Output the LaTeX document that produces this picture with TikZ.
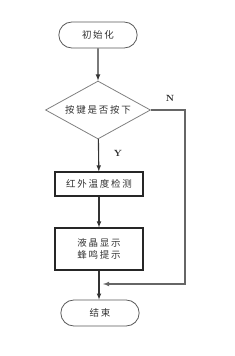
\documentclass[tikz,border=0pt]{standalone}
\usepackage{fontspec}
\newfontfamily\cjk[LetterSpace=18]{Noto Sans CJK SC}
\usetikzlibrary{shapes.geometric,shapes.misc}
\tikzset{
  line/.style={draw=black!80,line width=1.1pt,-latex},
  term/.style={rounded rectangle,draw=black!65,line width=0.8pt,minimum width=85pt,minimum height=26pt,font=\cjk\fontsize{9.5}{11}\selectfont,text=black!80},
  proc/.style={rectangle,draw=black!85,line width=1.1pt,minimum width=88pt,font=\cjk\fontsize{9.5}{12}\selectfont,text=black!80,align=center},
  dec/.style={diamond,aspect=2,inner sep=0pt,draw=black!50,line width=0.8pt,minimum width=105pt,minimum height=58pt,font=\cjk\fontsize{9.5}{11}\selectfont,text=black!80},
  lab/.style={font=\bfseries\fontsize{9}{11}\selectfont,text=black!85}
}
\begin{document}
\begin{tikzpicture}[x=1pt,y=-1pt]
\useasboundingbox (0,0) rectangle (234,356);
\node[term] (init) at (98,35) {初始化};
\node[dec] (key) at (98,110) {按键是否按下};
\node[proc,minimum height=24pt] (temp) at (99,184) {红外温度检测};
\node[proc,minimum height=42pt] (show) at (99,249) {液晶显示\\蜂鸣提示};
\node[term] (fin) at (100,313) {结束};
\coordinate (nr) at (185,110);
\coordinate (nd) at (185,284);
\coordinate (nj) at (103,284);
\draw[line] (init) -- (key);
\draw[line] (key) -- (temp);
\draw[line] (temp) -- (show);
\draw[line] (show) -- (show |- fin.north);
% N branch
\draw[line,draw=black!60] (key.east) -- (nr) -- (nd) -- (nj);
\node[lab] (n) at (170,98) {N};
\node[lab] (y) at (118,153) {Y};
\end{tikzpicture}
\end{document}
